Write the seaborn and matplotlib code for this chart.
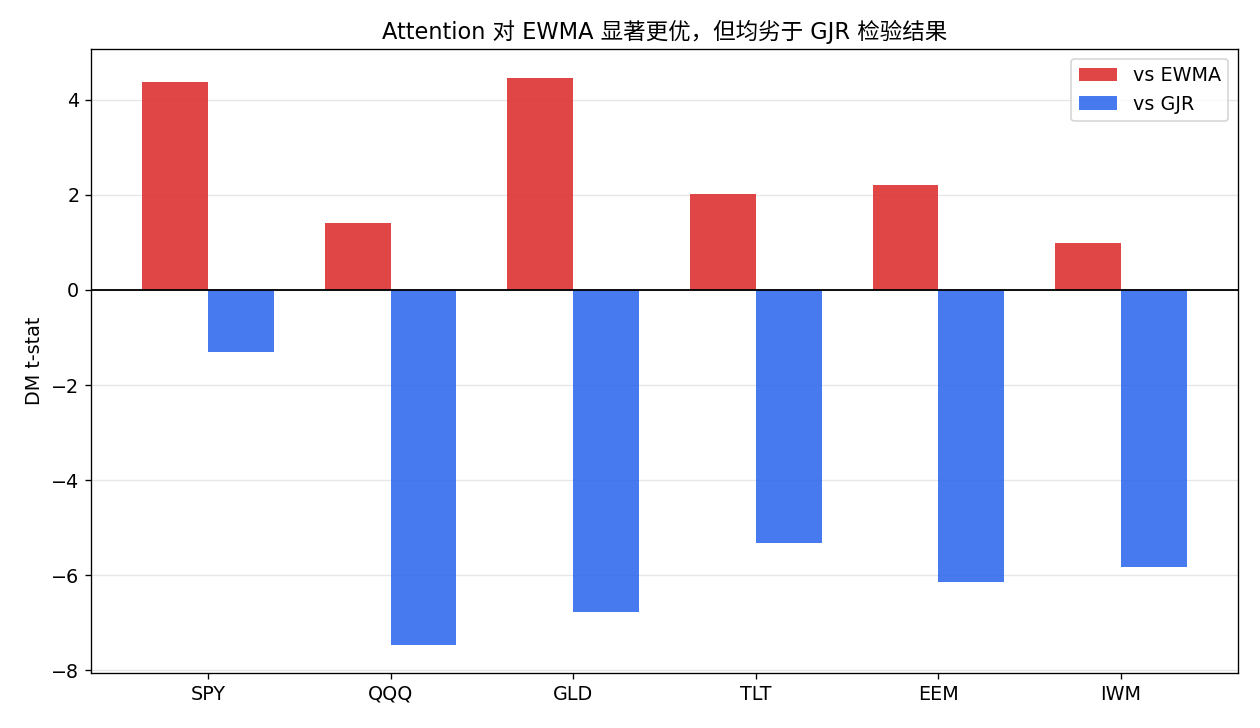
import matplotlib
matplotlib.use("Agg")
import matplotlib.pyplot as plt
import seaborn as sns
import pandas as pd

# data
assets = ["SPY", "QQQ", "GLD", "TLT", "EEM", "IWM"]
dm_vs_ewma = [4.38, 1.41, 4.47, 2.02, 2.21, 0.99]
dm_vs_gjr = [-1.31, -7.48, -6.78, -5.32, -6.14, -5.82]
series_names = ["vs EWMA", "vs GJR"]
title = "Attention 对 EWMA 显著更优，但均劣于 GJR 检验结果"

plt.rcParams["font.family"] = ["DejaVu Sans", "Noto Sans CJK SC"]
plt.rcParams["font.size"] = 11.5
plt.rcParams["axes.unicode_minus"] = True

df = pd.DataFrame({
    "asset": assets * 2,
    "dm": dm_vs_ewma + dm_vs_gjr,
    "comp": [series_names[0]] * len(assets) + [series_names[1]] * len(assets),
})

fig = plt.figure(figsize=(10.5, 6.0667), dpi=120)
ax = fig.add_axes([0.0722, 0.0755, 0.9103, 0.8572])

sns.barplot(data=df, x="asset", y="dm", hue="comp", order=assets,
            hue_order=series_names, palette=["#dc2626", "#2563eb"],
            width=0.72, alpha=0.85, errorbar=None, saturation=1,
            ax=ax, zorder=2)

ax.axhline(0, color="black", linewidth=1.1, zorder=3)
ax.grid(axis="y", alpha=0.3, zorder=0)
ax.set_axisbelow(True)
ax.set_xlim(-0.64, 5.64)
ax.set_ylim(-8.06, 5.07)
ax.set_xlabel("")
ax.set_ylabel("DM t-stat")
ax.set_title(title, fontsize=13.5)
ax.legend(loc="upper right", title=None)

fig.savefig("out.png", dpi=120)
